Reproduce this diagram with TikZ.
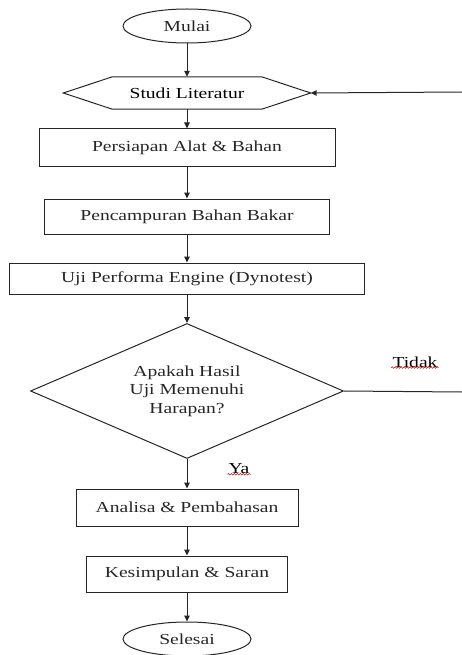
\documentclass[tikz,border=0pt]{standalone}
\usepackage{graphicx}
\usepackage{fontspec}
\setmainfont{Liberation Serif}
\usetikzlibrary{arrows.meta, shapes.geometric, decorations.pathmorphing}

% flowchart text is set a little wider than it is tall
\newcommand{\wtxt}[1]{\scalebox{1.28}[1]{#1}}

\tikzset{
  flowline/.style={line width=1pt, black!85},
  flowarrow/.style={flowline, -{Triangle[length=6pt, width=5.5pt]}},
  procbox/.style={draw, flowline, rectangle, inner sep=0pt},
  termnode/.style={draw, flowline, ellipse, inner sep=0pt,
    minimum width=128pt, minimum height=34pt},
  decnode/.style={draw, flowline, diamond, inner sep=0pt, aspect=2.3},
  answer/.style={inner sep=1pt},
  spellmark/.style={red!80!black, line width=0.5pt,
    decorate, decoration={snake, amplitude=0.8pt, segment length=3pt}}
}

\begin{document}
\begin{tikzpicture}[x=1pt, y=-1pt,
    every node/.style={font=\fontsize{15.3}{18.5}\selectfont}]
  \def\cx{187}
  \def\rim{462}

  \useasboundingbox (0,0) rectangle (462,655);

  % Start and literature ---------------------------------------------------
  \node[termnode] (mulai) at (\cx, 26) {\wtxt{Mulai}};
  \node[inner sep=0pt, minimum width=247pt, minimum height=32pt]
    (lit) at (\cx, 93) {\wtxt{Studi Literatur}};
  \draw[flowline] (lit.west) -- ([xshift=49pt]lit.north west)
    -- ([xshift=-49pt]lit.north east) -- (lit.east)
    -- ([xshift=-49pt]lit.south east) -- ([xshift=49pt]lit.south west)
    -- cycle;

  % Process steps ----------------------------------------------------------
  \node[procbox, minimum width=296pt, minimum height=38pt]
    (alat) at (\cx, 148) {\wtxt{Persiapan Alat \& Bahan}};
  \node[procbox, minimum width=285pt, minimum height=35pt]
    (campur) at (\cx, 216.5) {\wtxt{Pencampuran Bahan Bakar}};
  \node[procbox, minimum width=355pt, minimum height=31pt]
    (uji) at (\cx, 278.5) {\wtxt{Uji Performa Engine (Dynotest)}};

  % Decision ---------------------------------------------------------------
  \node[decnode, minimum width=313pt, minimum height=135pt, align=center]
    (cek) at (\cx, 391)
    {\wtxt{Apakah Hasil}\\ \wtxt{Uji Memenuhi}\\ \wtxt{Harapan?}};

  % Results and end --------------------------------------------------------
  \node[procbox, minimum width=222pt, minimum height=37pt]
    (analisa) at (\cx, 507.5) {\wtxt{Analisa \& Pembahasan}};
  \node[procbox, minimum width=201pt, minimum height=36pt]
    (simpul) at (\cx, 574) {\wtxt{Kesimpulan \& Saran}};
  \node[termnode] (selesai) at (\cx, 639) {\wtxt{Selesai}};

  % Main flow --------------------------------------------------------------
  \draw[flowarrow] (mulai) -- (lit);
  \draw[flowarrow] (lit.south) -- (alat);
  \draw[flowarrow] (alat) -- (campur);
  \draw[flowarrow] (campur) -- (uji);
  \draw[flowarrow] (uji) -- (cek);
  \draw[flowarrow] (cek) -- (analisa);
  \draw[flowarrow] (analisa) -- (simpul);
  \draw[flowarrow] (simpul) -- (selesai);

  % Loop back (runs off the right edge) -----------------------------------
  \coordinate (loopin) at (\rim, 392);
  \coordinate (loopout) at (\rim, 92);
  \draw[flowline] (cek.east) -- (loopin);
  \draw[flowarrow] (loopout) -- (lit.east);

  % Answer labels ----------------------------------------------------------
  \node[answer] (tidak) at (415, 362) {\wtxt{Tidak}};
  \node[answer] (ya) at (239, 469) {\wtxt{Ya}};
  \draw[spellmark] ([yshift=1pt]tidak.south west) -- ([yshift=1pt]tidak.south east);
  \draw[spellmark] ([yshift=1pt]ya.south west) -- ([yshift=1pt]ya.south east);

\end{tikzpicture}
\end{document}
